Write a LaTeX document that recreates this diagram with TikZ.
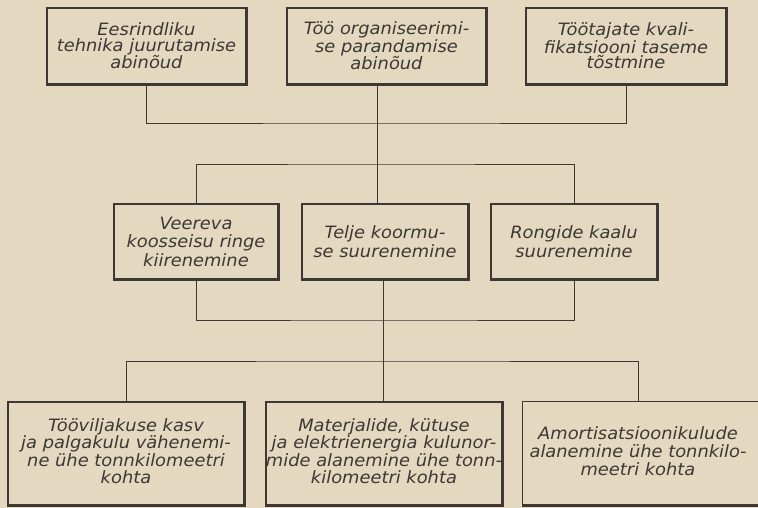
\documentclass[tikz,border=0pt]{standalone}
\usepackage{fontspec}
\setmainfont{DejaVu Sans}[FakeStretch=1.05]
\definecolor{paper}{HTML}{E5D8C0}
\definecolor{ink}{HTML}{3C3833}
\begin{document}
\begin{tikzpicture}[x=1pt,y=-1pt,
  box/.style={draw=ink, line width=1.1pt, text=ink, align=center, inner sep=0pt,
    font=\itshape\fontsize{17}{15.5}\selectfont},
  midbox/.style={box, font=\itshape\fontsize{17}{18.5}\selectfont},
  wire/.style={draw=ink, line width=0.9pt},
  shade/.style={draw=ink, line width=2.4pt}]
\fill[paper] (0,0) rectangle (758,508);
\useasboundingbox (0,0) rectangle (758,508);

% top row
\node[box, minimum width=199pt, minimum height=76pt] (b1) at (146.5,46)
  {Eesrindliku\\tehnika juurutamise\\abinõud};
\node[box, minimum width=199pt, minimum height=76pt] (b2) at (386.5,46)
  {Töö organiseerimi-\\se parandamise\\abinõud};
\node[box, minimum width=200pt, minimum height=76pt] (b3) at (626,46)
  {Töötajate kvali-\\fikatsiooni taseme\\tõstmine};

% middle row
\node[midbox, minimum width=164pt, minimum height=75pt] (b4) at (196,241.5)
  {Veereva\\koosseisu ringe\\kiirenemine};
\node[midbox, minimum width=166pt, minimum height=75pt] (b5) at (385,241.5)
  {Telje koormu-\\se suurenemine};
\node[midbox, minimum width=166pt, minimum height=75pt] (b6) at (574,241.5)
  {Rongide kaalu\\suurenemine};

% bottom row
\node[box, minimum width=236pt, minimum height=103pt] (b7) at (126,453.5)
  {\raisebox{3pt}{\begin{tabular}{@{}c@{}}Tööviljakuse kasv\\ja palgakulu vähenemi-\\ne ühe tonnkilomeetri\\kohta\end{tabular}}};
\node[box, minimum width=234pt, minimum height=103pt] (b8) at (384,453.5)
  {\raisebox{3pt}{\begin{tabular}{@{}c@{}}Materjalide, kütuse\\ja elektrienergia kulunor-\\mide alanemine ühe tonn-\\kilomeetri kohta\end{tabular}}};
\node[box, draw=none, minimum width=230pt, minimum height=103pt,
  font=\itshape\fontsize{17}{16.5}\selectfont] (b9) at (638,453.5)
  {\raisebox{3pt}{\begin{tabular}{@{}c@{}}Amortisatsioonikulude\\alanemine ühe tonnkilo-\\meetri kohta\end{tabular}}};

% shadowed bottom/right edges
\foreach \n in {b1,b2,b3,b4,b5,b6,b7,b8}
  \draw[shade] (\n.south west) -- (\n.south east) -- (\n.north east);
\draw[ink, line width=1.1pt] ([xshift=60pt]b9.north east) -- (b9.north west) -- (b9.south west);
\draw[shade] (b9.south west) -- ([xshift=60pt]b9.south east);

% bus junctions
\coordinate (t1) at (377,123);
\coordinate (t2) at (377,164);
\coordinate (m1) at (383,320);
\coordinate (m2) at (383,361);

% connectors
\draw[wire] (b1) |- (t1) -| (b3);
\draw[wire] (b2.south -| t1) -- (t2);
\draw[wire] (b4) |- (t2) -| (b6);
\draw[wire] (t2) -- (t2 |- b5.north);
\draw[wire] (b4) |- (m1) -| (b6);
\draw[wire] (b5.south -| m1) -- (m1 |- b8.north);
\draw[wire] (b7) |- (m2) -| (b9);
\end{tikzpicture}
\end{document}
